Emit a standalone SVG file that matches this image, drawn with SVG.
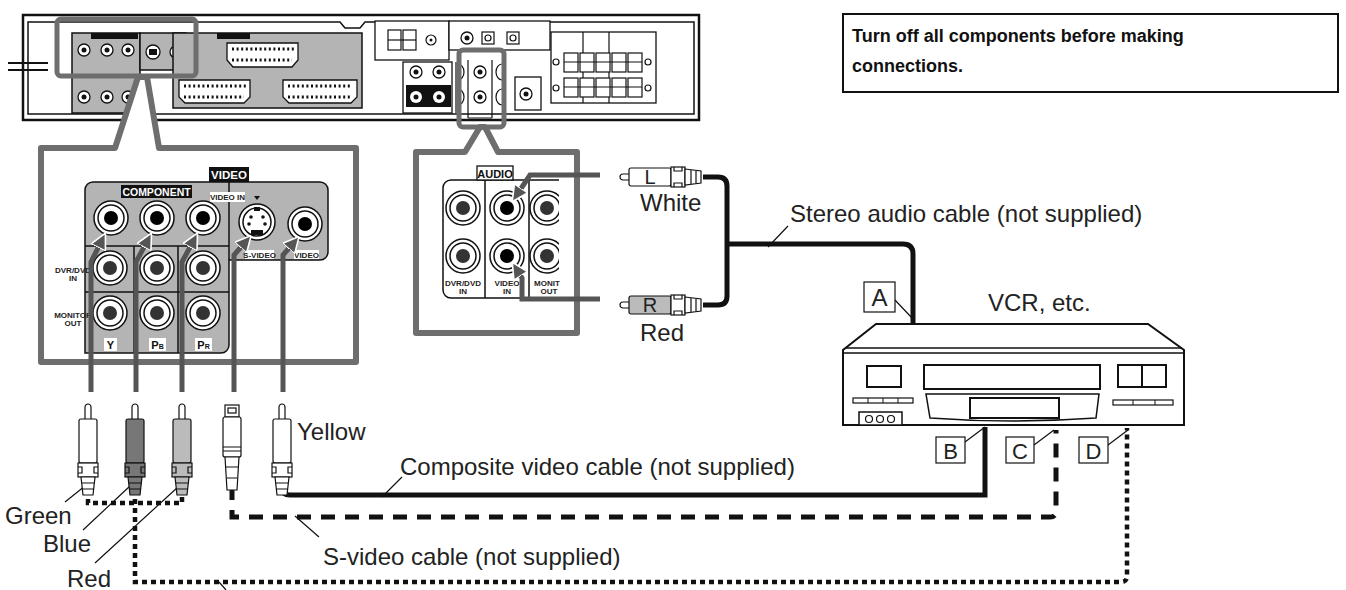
<svg xmlns="http://www.w3.org/2000/svg" width="1346" height="590" viewBox="0 0 1346 590">
<style>
.t{font-family:"Liberation Sans",Arial,sans-serif;fill:#222}
.lbl{font-size:24px}
.b{font-family:"Liberation Sans",Arial,sans-serif;font-weight:bold}
.sm{font-family:"Liberation Sans",Arial,sans-serif;font-weight:bold;font-size:8px;fill:#222;text-anchor:middle}
.ln{fill:none;stroke:#111;stroke-width:1.5}
.call{fill:#fff;stroke:#6e6e6e;stroke-width:6;stroke-linejoin:round}
.gp{fill:#b4b4b4;stroke:#111;stroke-width:1.5}
.cab{fill:none;stroke:#555;stroke-width:5}
.blk{fill:none;stroke:#111;stroke-width:5}
.lead{fill:none;stroke:#111;stroke-width:1.2}
.box{fill:#fff;stroke:#111;stroke-width:1.2}
</style>
<defs>
<g id="jk"><circle r="17" fill="#fff" stroke="#111" stroke-width="1.5"/><circle r="13" fill="#fff" stroke="#111" stroke-width="1.5"/><circle r="7" fill="#333"/></g>
<g id="jkb"><circle r="17" fill="#fff" stroke="#111" stroke-width="1.5"/><circle r="13" fill="#fff" stroke="#111" stroke-width="1.5"/><circle r="7" fill="#000"/></g>
<g id="sj"><circle r="6" fill="#fff" stroke="#111" stroke-width="1.3"/><circle r="2.5" fill="#111"/></g>
<marker id="ar" viewBox="0 0 10 10" refX="8" refY="5" markerWidth="3.2" markerHeight="3.2" orient="auto" markerUnits="strokeWidth"><path d="M0,0 L10,5 L0,10 Z" fill="#555" stroke="#fff" stroke-width="1"/></marker>
<g id="rca"><path d="M-3,16 V4 a3,3 0 0 1 6,0 V16" class="box"/><rect x="-9" y="16" width="18" height="44" rx="2"/><rect x="-10" y="60" width="20" height="14"/><path d="M-10,64 h4 v6 h-4 M10,64 h-4 v6 h4" class="lead"/><path d="M-7,74 L-5,92 H5 L7,74 Z"/><path d="M-6,80 H6 M-6,86 H6" class="lead"/></g>
<g id="hplug"><path d="M0,-3 H-6 a3,3 0 0 0 0,6 H0" class="box"/><rect x="0" y="-9" width="42" height="18" rx="2"/><rect x="42" y="-10" width="14" height="20" class="box"/><path d="M45,-10 v4 h8 v-4 M45,10 v-4 h8 v4" class="lead"/><path d="M56,-8 L72,-6 V6 L56,8 Z" class="box"/><path d="M62,-7 V7 M67,-6 V6" class="lead"/></g>
</defs>

<g id="rear-panel">
<path d="M23,15 H699 V120 H23 Z" fill="#fff" stroke="#111" stroke-width="2.5"/>
<path d="M28,22 H340 L345,28 H360 L365,22 H694 V114 H28 Z" class="ln"/>
<path d="M8,63 H48 M8,70 H48" stroke="#111" stroke-width="2"/>
<rect x="72" y="33" width="68" height="80" class="gp"/>
<rect x="91" y="33" width="47" height="6" fill="#111"/>
<rect x="140" y="33" width="46" height="37" class="gp"/>
<use href="#sj" x="84" y="50"/><use href="#sj" x="107" y="50"/><use href="#sj" x="128" y="50"/>
<use href="#sj" x="84" y="97"/><use href="#sj" x="107" y="97"/><use href="#sj" x="128" y="97"/>
<circle cx="153" cy="52" r="7" fill="#fff" stroke="#111" stroke-width="1.3"/><rect x="149" y="49" width="8" height="6" fill="#111"/>
<use href="#sj" x="176" y="52"/>
<rect x="173" y="33" width="189" height="75" class="gp"/>
<rect x="217" y="33" width="33" height="6" fill="#111"/>
<path d="M227,43 H298 V60 L292,67 H233 L227,60 Z" fill="#fff" stroke="#111" stroke-width="1.3"/>
<path d="M179,80 H250 V97 L244,103 H185 L179,97 Z" fill="#fff" stroke="#111" stroke-width="1.3"/>
<path d="M283,80 H357 V97 L351,103 H289 L283,97 Z" fill="#fff" stroke="#111" stroke-width="1.3"/>
<path d="M232,49 H294 M232,60 H292 M184,86 H246 M184,97 H244 M288,86 H352 M288,97 H350" stroke="#111" stroke-width="3" stroke-dasharray="2 2.6"/>
<rect x="375" y="21" width="74" height="39" fill="#fff" stroke="#111" stroke-width="1.3"/>
<rect x="388" y="30" width="13" height="20" class="box"/><rect x="403" y="30" width="13" height="20" class="box"/>
<path d="M388,40 H416" class="lead"/>
<circle cx="431" cy="40" r="5" class="box"/><circle cx="431" cy="40" r="1.5" fill="#111"/>
<rect x="449" y="21" width="101" height="29" fill="#fff" stroke="#111" stroke-width="1.3"/>
<use href="#sj" x="467" y="38"/>
<rect x="482" y="32" width="12" height="12" class="box"/><circle cx="488" cy="38" r="3" class="box"/>
<rect x="507" y="32" width="12" height="12" class="box"/><circle cx="513" cy="38" r="3" class="box"/>
<rect x="403" y="62" width="49" height="51" fill="#fff" stroke="#111" stroke-width="1.3"/>
<rect x="406" y="85" width="45" height="22" fill="#111"/>
<use href="#sj" x="416" y="72"/><use href="#sj" x="439" y="72"/>
<circle cx="416" cy="97" r="6" fill="#fff"/><circle cx="416" cy="97" r="2.5" fill="#111"/>
<circle cx="439" cy="97" r="6" fill="#fff"/><circle cx="439" cy="97" r="2.5" fill="#111"/>
<path d="M456,62 V113 M504,62 V113 M468,60 V118 M492,60 V118 M468,118 H492" class="lead"/>
<use href="#sj" x="480" y="72"/><use href="#sj" x="480" y="97"/>
<path d="M458,64 a6,8 0 0 1 0,16 M458,89 a6,8 0 0 1 0,16 M502,64 a6,8 0 0 0 0,16 M502,89 a6,8 0 0 0 0,16" class="lead"/>
<rect x="515" y="77" width="26" height="33" fill="#fff" stroke="#111" stroke-width="1.3"/>
<use href="#sj" x="526" y="94"/>
<rect x="551" y="32" width="105" height="71" fill="#fff" stroke="#111" stroke-width="1.3"/>
<path d="M583,32 V103 M609,32 V103" class="lead"/>
<g fill="#fff" stroke="#111" stroke-width="1.2">
<rect x="564" y="53" width="14" height="19"/><rect x="580" y="53" width="14" height="19"/><rect x="596" y="53" width="14" height="19"/><rect x="612" y="53" width="14" height="19"/><rect x="628" y="53" width="14" height="19"/>
<rect x="564" y="78" width="14" height="19"/><rect x="580" y="78" width="14" height="19"/><rect x="596" y="78" width="14" height="19"/><rect x="612" y="78" width="14" height="19"/><rect x="628" y="78" width="14" height="19"/>
</g>
<path d="M564,62 H642 M564,87 H642" class="lead"/>
<circle cx="556" cy="62" r="3" class="box"/><circle cx="648" cy="62" r="3" class="box"/>
<circle cx="556" cy="88" r="3" class="box"/><circle cx="648" cy="88" r="3" class="box"/>
<rect x="57" y="19" width="139" height="57" rx="4" fill="none" stroke="#6e6e6e" stroke-width="5"/>
<rect x="459" y="50" width="45" height="77" rx="4" fill="none" stroke="#6e6e6e" stroke-width="5"/>
</g>

<g id="video-callout">
<path class="call" d="M41,148 H115 L138,77 L147,77 L159,148 H356 V362 H41 Z"/>
<path class="gp" d="M85,190 a8,8 0 0 1 8,-8 H320 a8,8 0 0 1 8,8 V252 a8,8 0 0 1 -8,8 H229 V345 a8,8 0 0 1 -8,8 H85 Z"/>
<path d="M229,182 V260 M85,246 H229 M85,292 H229 M134,246 V353 M178,246 V353" class="ln"/>
<rect x="121" y="185" width="71" height="13" fill="#111"/>
<text x="156.5" y="195.5" class="b" font-size="10.5" fill="#fff" text-anchor="middle">COMPONENT</text>
<rect x="209" y="167" width="40" height="15" fill="#111"/>
<text x="229" y="179" class="b" font-size="11.5" fill="#fff" text-anchor="middle">VIDEO</text>
<rect x="210" y="192" width="35" height="10" fill="#fff"/>
<text x="227.5" y="200" class="sm" font-size="7.5">VIDEO IN</text>
<path d="M254,196 L260,196 L257,200 Z" fill="#111"/>
<use href="#jkb" x="111" y="218"/><use href="#jkb" x="157" y="218"/><use href="#jkb" x="203" y="218"/>
<use href="#jk" x="110" y="268"/><use href="#jk" x="157" y="268"/><use href="#jk" x="203" y="268"/>
<use href="#jk" x="110" y="313"/><use href="#jk" x="157" y="313"/><use href="#jk" x="203" y="313"/>
<circle cx="257" cy="222" r="18" fill="#fff" stroke="#111" stroke-width="1.5"/>
<circle cx="257" cy="222" r="14" fill="#fff" stroke="#111" stroke-width="1.5"/>
<rect x="251" y="230" width="12" height="5" fill="#111"/>
<circle cx="251" cy="217" r="1.8" fill="#111"/><circle cx="263" cy="217" r="1.8" fill="#111"/><circle cx="249" cy="224" r="1.8" fill="#111"/><circle cx="265" cy="224" r="1.8" fill="#111"/>
<rect x="254" y="207" width="6" height="4" fill="#111"/>
<use href="#jkb" x="305" y="224"/>
<rect x="245" y="250" width="29" height="9" fill="#fff"/><text x="259.5" y="257.5" class="sm" font-size="7.5">S-VIDEO</text>
<rect x="294" y="250" width="25" height="9" fill="#fff"/><text x="306.5" y="257.5" class="sm" font-size="7.5">VIDEO</text>
<text x="73" y="273" class="sm">DVR/DVD</text><text x="73" y="281" class="sm">IN</text>
<text x="73" y="318" class="sm">MONITOR</text><text x="73" y="326" class="sm">OUT</text>
<rect x="104" y="338" width="13" height="13" fill="#fff"/><text x="110.5" y="349" class="b" font-size="11" fill="#111" text-anchor="middle">Y</text>
<rect x="149" y="338" width="17" height="13" fill="#fff"/><text x="157.5" y="349" class="b" font-size="11" fill="#111" text-anchor="middle">P<tspan font-size="7">B</tspan></text>
<rect x="195" y="338" width="17" height="13" fill="#fff"/><text x="203.5" y="349" class="b" font-size="11" fill="#111" text-anchor="middle">P<tspan font-size="7">R</tspan></text>
</g>

<g id="audio-callout">
<path class="call" d="M416,152 H465 L480,127 L485,127 L498,152 H577 V333 H416 Z"/>
<path d="M559,180 H451 a8,8 0 0 0 -8,8 V290 a8,8 0 0 0 8,8 H559" fill="#fff" stroke="#111" stroke-width="1.5"/>
<path d="M485,180 V298 M529,180 V298" class="ln"/>
<rect x="477" y="166" width="36" height="14" fill="#fff" stroke="#111" stroke-width="1.3"/>
<text x="495" y="177.5" class="b" font-size="11" fill="#111" text-anchor="middle">AUDIO</text>
<use href="#jk" x="463" y="208"/><use href="#jkb" x="507" y="208"/><use href="#jk" x="463" y="256"/><use href="#jkb" x="507" y="256"/>
<clipPath id="cl"><rect x="529" y="180" width="30" height="118"/></clipPath>
<g clip-path="url(#cl)"><use href="#jk" x="547" y="208"/><use href="#jk" x="547" y="256"/></g>
<text x="463" y="286" class="sm">DVR/DVD</text><text x="463" y="294" class="sm">IN</text>
<text x="507" y="286" class="sm">VIDEO</text><text x="507" y="294" class="sm">IN</text>
<text x="547" y="286" class="sm">MONIT</text><text x="549" y="294" class="sm">OUT</text>
</g>

<g id="connectors">
<path class="cab" d="M91,392 V262 L104,236" marker-end="url(#ar)"/>
<path class="cab" d="M136,392 V262 L150,236" marker-end="url(#ar)"/>
<path class="cab" d="M182,392 V262 L196,236" marker-end="url(#ar)"/>
<path class="cab" d="M234,392 V255 L249,238" marker-end="url(#ar)"/>
<path class="cab" d="M283,392 V255 L297,239" marker-end="url(#ar)"/>
<path class="cab" d="M600,175 H530 L514,199" marker-end="url(#ar)"/>
<path class="cab" d="M600,299 H522 V278 L514,265" marker-end="url(#ar)"/>
<path class="blk" d="M703,177 H718 Q727,177 727,186 V296 Q727,305 718,305 H703 M727,244 H903 Q913,244 913,254 V323"/>
<path class="blk" d="M282,488 Q282,495 290,495 H985 V427"/>
<path fill="none" stroke="#111" stroke-width="5" stroke-dasharray="14 10" d="M232,486 V517 H1050 Q1056,517 1056,511 V430"/>
<path fill="none" stroke="#111" stroke-width="4.5" stroke-dasharray="5 4" d="M88,490 V503 H182 V490 M135,490 V582 H1121 Q1127,582 1127,576 V428"/>
<path class="lead" d="M65,502 L85,486 M83,530 L130,486 M95,563 L178,487 M382,497 L402,477 M295,516 L319,537 M768,247 L788,226 M895,300 L912,318 M965,442 L985,427 M1034,445 L1054,430 M1108,445 L1128,430 M219,582 L226,590"/>
</g>

<g id="plugs">
<use href="#rca" x="88" y="403" fill="#fff" stroke="#111" stroke-width="1.2"/>
<use href="#rca" x="135" y="403" fill="#777" stroke="#111" stroke-width="1.2"/>
<use href="#rca" x="182" y="403" fill="#bbb" stroke="#111" stroke-width="1.2"/>
<use href="#rca" x="282" y="403" fill="#fff" stroke="#111" stroke-width="1.2"/>
<g id="svideo-plug" fill="#fff" stroke="#111" stroke-width="1.2">
<rect x="225" y="405" width="14" height="12"/><rect x="228" y="408" width="8" height="5"/>
<rect x="223" y="417" width="18" height="40" rx="2"/>
<path d="M223,447 H241 M223,451 H241"/>
<path d="M225,457 L227,490 H237 L239,457 Z"/><path d="M226,467 H238 M227,478 H237"/>
</g>
<use href="#hplug" x="629" y="177" fill="#fff" stroke="#111" stroke-width="1.2"/>
<use href="#hplug" x="629" y="305" fill="#bbb" stroke="#111" stroke-width="1.2"/>
<text x="650" y="184" class="t" font-size="20" text-anchor="middle">L</text>
<text x="650" y="312" class="t" font-size="20" text-anchor="middle">R</text>
</g>

<g id="vcr" fill="#fff" stroke="#111" stroke-width="2">
<path d="M876,324 H1148 L1184,350 V425 H843 V350 Z"/>
<path d="M845,348 H1182 M843,353 H1184" stroke-width="1.5"/>
<rect x="867" y="366" width="34" height="21"/>
<rect x="924" y="365" width="176" height="24"/>
<path d="M926,394 H1099 L1096,418 Q1012,424 930,418 Z" stroke-width="1.5"/>
<rect x="970" y="398" width="89" height="20"/>
<rect x="853" y="398" width="60" height="5" stroke-width="1.2"/>
<path d="M868,398 V403 M883,398 V403 M898,398 V403" stroke-width="1"/>
<rect x="859" y="412" width="43" height="13" stroke-width="1.5"/>
<circle cx="869" cy="419" r="3.5" stroke-width="1.2"/><circle cx="880" cy="419" r="3.5" stroke-width="1.2"/><circle cx="891" cy="419" r="3.5" stroke-width="1.2"/>
<rect x="1118" y="365" width="48" height="22"/><path d="M1142,365 V387"/>
<rect x="1113" y="400" width="60" height="5" stroke-width="1.2"/>
<path d="M1133,400 V405 M1155,400 V405" stroke-width="1"/>
</g>

<g id="letter-boxes">
<rect x="864" y="282" width="31" height="30" class="box"/><text x="879.5" y="306" class="t lbl" text-anchor="middle">A</text>
<rect x="936" y="437" width="29" height="26" class="box"/><text x="950.5" y="459" class="t" font-size="22" text-anchor="middle">B</text>
<rect x="1006" y="437" width="28" height="26" class="box"/><text x="1020" y="459" class="t" font-size="22" text-anchor="middle">C</text>
<rect x="1079" y="437" width="29" height="26" class="box"/><text x="1093.5" y="459" class="t" font-size="22" text-anchor="middle">D</text>
</g>

<g id="labels">
<text x="640" y="211" class="t lbl">White</text>
<text x="640" y="341" class="t lbl">Red</text>
<text x="790" y="222" class="t lbl">Stereo audio cable (not supplied)</text>
<text x="988" y="311" class="t lbl">VCR, etc.</text>
<text x="297" y="440" class="t lbl">Yellow</text>
<text x="400" y="475" class="t lbl">Composite video cable (not supplied)</text>
<text x="323" y="565" class="t lbl">S-video cable (not supplied)</text>
<text x="5" y="524" class="t lbl">Green</text>
<text x="43" y="552" class="t lbl">Blue</text>
<text x="67" y="587" class="t lbl">Red</text>
</g>

<g id="note">
<rect x="843" y="14" width="495" height="78" fill="#fff" stroke="#111" stroke-width="2"/>
<text x="852" y="42" class="b" font-size="18" fill="#111">Turn off all components before making</text>
<text x="852" y="72" class="b" font-size="18" fill="#111">connections.</text>
</g>
</svg>
